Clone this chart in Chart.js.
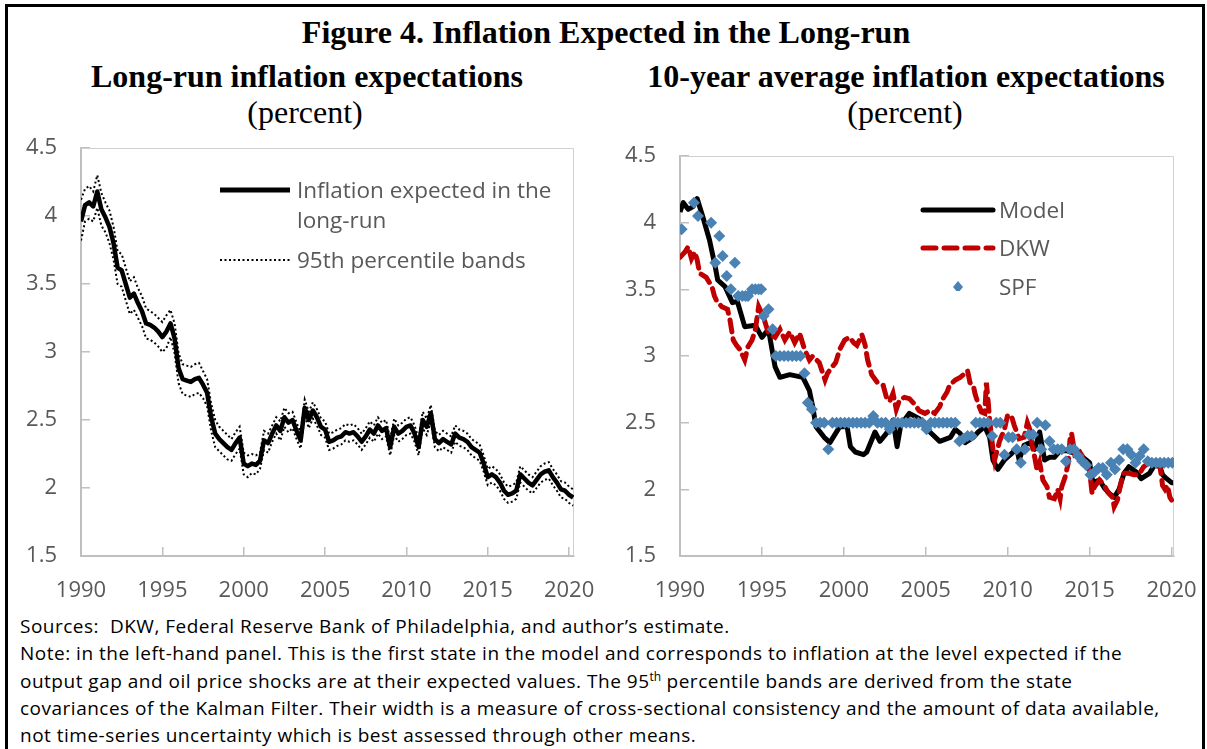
<!DOCTYPE html>
<html>
<head>
<meta charset="utf-8">
<script src="https://cdn.jsdelivr.net/npm/chart.js@4.4.1/dist/chart.umd.min.js"></script>
<style>
body{margin:0;width:1207px;height:749px;overflow:hidden;background:#fff;position:relative;font-family:"Open Sans",sans-serif}
#frame{position:absolute;left:5px;top:4px;width:1194px;height:800px;border:3px solid #000;border-bottom:none}
.t{position:absolute;font-family:"Liberation Serif",serif;font-size:32px;color:#000;white-space:nowrap;transform:translateX(-50%);line-height:1}
.b{font-weight:bold}
canvas{position:absolute}
.lg{position:absolute;font-size:22.5px;color:#595959;white-space:nowrap;line-height:30px}
svg{position:absolute}
#notes{position:absolute;left:20px;top:613px;font-size:19px;letter-spacing:0.5px;line-height:27.3px;color:#000;white-space:nowrap}
#notes sup{font-size:12px;line-height:0;letter-spacing:0}
</style>
</head>
<body>
<div id="frame"></div>
<div class="t b" style="left:606px;top:16px">Figure 4. Inflation Expected in the Long-run</div>
<div class="t b" style="left:307px;top:60px">Long-run inflation expectations</div>
<div class="t" style="left:305px;top:96px">(percent)</div>
<div class="t b" style="left:906px;top:60px">10-year average inflation expectations</div>
<div class="t" style="left:905px;top:96px">(percent)</div>

<canvas id="left" width="596" height="482" style="left:8px;top:128px"></canvas>
<canvas id="right" width="604" height="474" style="left:600px;top:136px"></canvas>

<svg width="80" height="90" style="left:216px;top:175px">
  <line x1="4" y1="15" x2="74" y2="15" stroke="#000" stroke-width="5"/>
  <line x1="4" y1="85" x2="74" y2="85" stroke="#000" stroke-width="2" stroke-dasharray="2 2.5"/>
</svg>
<div class="lg" style="left:297px;top:175px">Inflation expected in the<br>long-run</div>
<div class="lg" style="left:297px;top:245px">95th percentile bands</div>

<svg width="80" height="95" style="left:918px;top:196px">
  <line x1="5" y1="14" x2="75" y2="14" stroke="#000" stroke-width="5" stroke-linecap="round"/>
  <line x1="5" y1="52" x2="75" y2="52" stroke="#c00000" stroke-width="5" stroke-linecap="round" stroke-dasharray="13 8"/>
  <polygon points="40,85 45,91 40,97 35,91" fill="#4a82b4"/>
</svg>
<div class="lg" style="left:999px;top:195px">Model</div>
<div class="lg" style="left:999px;top:233px">DKW</div>
<div class="lg" style="left:999px;top:272px">SPF</div>

<div id="notes">Sources:&nbsp; DKW, Federal Reserve Bank of Philadelphia, and author’s estimate.<br>
Note: in the left-hand panel. This is the first state in the model and corresponds to inflation at the level expected if the<br>
output gap and oil price shocks are at their expected values. The 95<sup>th</sup> percentile bands are derived from the state<br>
covariances of the Kalman Filter. Their width is a measure of cross-sectional consistency and the amount of data available,<br>
not time-series uncertainty which is best assessed through other means.</div>

<script>
// left panel, quarterly from 1990Q1
var longRun = [
  3.96, 4.08, 4.10, 4.07,  4.18, 4.05, 3.99, 3.92,  3.80, 3.62, 3.60, 3.50,
  3.40, 3.43, 3.36, 3.30,  3.21, 3.20, 3.18, 3.15,  3.11, 3.15, 3.21, 3.10,
  2.88, 2.80, 2.79, 2.78,  2.80, 2.81, 2.76, 2.70,  2.52, 2.40, 2.36, 2.33,
  2.30, 2.28, 2.33, 2.37,  2.18, 2.16, 2.18, 2.17,  2.20, 2.35, 2.33, 2.40,
  2.46, 2.42, 2.52, 2.48,  2.50, 2.42, 2.35, 2.59,  2.50, 2.57, 2.52, 2.45,
  2.43, 2.34, 2.35, 2.37,  2.38, 2.41, 2.40, 2.41,  2.38, 2.34, 2.38, 2.43,
  2.40, 2.46, 2.42, 2.44,  2.30, 2.45, 2.40, 2.42,  2.45, 2.46, 2.40, 2.30,
  2.50, 2.45, 2.55, 2.36,  2.33, 2.36, 2.34, 2.32,  2.40, 2.37, 2.36, 2.34,
  2.30, 2.28, 2.26, 2.18,  2.08, 2.10, 2.08, 2.04,  1.98, 1.95, 1.96, 1.98,
  2.10, 2.07, 2.04, 2.02,  2.06, 2.10, 2.12, 2.13,  2.08, 2.04, 1.99, 1.98,
  1.95, 1.93
];
var bandUpper = [
  4.12, 4.20, 4.22, 4.18,  4.30, 4.17, 4.10, 4.04,  3.92, 3.74, 3.72, 3.62,
  3.52, 3.55, 3.47, 3.41,  3.32, 3.30, 3.28, 3.25,  3.22, 3.27, 3.31, 3.21,
  2.99, 2.91, 2.90, 2.89,  2.91, 2.92, 2.86, 2.80,  2.62, 2.50, 2.45, 2.42,
  2.39, 2.36, 2.41, 2.45,  2.26, 2.24, 2.25, 2.24,  2.26, 2.42, 2.40, 2.46,
  2.52, 2.49, 2.59, 2.55,  2.56, 2.48, 2.41, 2.65,  2.56, 2.63, 2.58, 2.51,
  2.49, 2.40, 2.41, 2.43,  2.44, 2.47, 2.46, 2.47,  2.44, 2.40, 2.44, 2.49,
  2.46, 2.52, 2.48, 2.50,  2.36, 2.51, 2.46, 2.48,  2.51, 2.52, 2.46, 2.36,
  2.56, 2.51, 2.61, 2.42,  2.39, 2.42, 2.40, 2.38,  2.46, 2.43, 2.42, 2.40,
  2.36, 2.34, 2.32, 2.24,  2.14, 2.16, 2.14, 2.10,  2.04, 2.01, 2.02, 2.04,
  2.16, 2.13, 2.10, 2.08,  2.12, 2.16, 2.18, 2.19,  2.14, 2.10, 2.05, 2.04,
  2.01, 1.99
];
var bandLower = [
  3.82, 3.96, 3.98, 3.96,  4.06, 3.93, 3.88, 3.80,  3.68, 3.50, 3.48, 3.38,
  3.28, 3.31, 3.25, 3.19,  3.10, 3.09, 3.07, 3.04,  3.00, 3.03, 3.11, 2.99,
  2.77, 2.69, 2.68, 2.67,  2.69, 2.70, 2.66, 2.60,  2.42, 2.30, 2.27, 2.24,
  2.21, 2.20, 2.25, 2.29,  2.10, 2.08, 2.11, 2.10,  2.14, 2.28, 2.26, 2.34,
  2.40, 2.35, 2.45, 2.41,  2.44, 2.36, 2.29, 2.53,  2.44, 2.51, 2.46, 2.39,
  2.37, 2.28, 2.29, 2.31,  2.32, 2.35, 2.34, 2.35,  2.32, 2.28, 2.32, 2.37,
  2.34, 2.40, 2.36, 2.38,  2.24, 2.39, 2.34, 2.36,  2.39, 2.40, 2.34, 2.24,
  2.44, 2.39, 2.49, 2.30,  2.27, 2.30, 2.28, 2.26,  2.34, 2.31, 2.30, 2.28,
  2.24, 2.22, 2.20, 2.12,  2.02, 2.04, 2.02, 1.98,  1.92, 1.89, 1.90, 1.92,
  2.04, 2.01, 1.98, 1.96,  2.00, 2.04, 2.06, 2.07,  2.02, 1.98, 1.93, 1.92,
  1.89, 1.87
];

// right panel
var modelYears = [1990.0, 1990.2, 1990.5, 1990.8, 1991.05, 1991.4, 1991.8, 1992.15, 1992.3, 1992.75,
  1993.2, 1993.5, 1993.95, 1994.6, 1995.0, 1995.4, 1995.8, 1996.1, 1996.7, 1997.5,
  1997.9, 1998.1, 1998.3, 1998.8, 1999.15, 1999.75, 2000.2, 2000.4, 2000.7, 2001.2,
  2001.4, 2001.9, 2002.2, 2002.6, 2003.0, 2003.25, 2003.5, 2003.7, 2004.0, 2004.6,
  2005.25, 2005.85, 2006.5, 2006.8, 2007.1, 2007.4, 2007.9, 2008.2, 2008.6, 2008.9,
  2009.1, 2009.4, 2009.8, 2010.25, 2010.55, 2010.7, 2011.0, 2011.35, 2011.65, 2011.95,
  2012.25, 2012.55, 2012.85, 2013.2, 2013.6, 2014.1, 2014.6, 2015.0, 2015.2, 2015.6,
  2015.9, 2016.2, 2016.5, 2016.8, 2017.1, 2017.4, 2017.85, 2018.15, 2018.65, 2018.95,
  2019.3, 2019.45, 2019.7, 2020.0, 2020.1];
var modelValues = [4.08, 4.15, 4.10, 4.12, 4.18, 4.04, 3.87, 3.67, 3.57, 3.52,
  3.40, 3.41, 3.22, 3.23, 3.14, 3.20, 2.92, 2.84, 2.86, 2.84,
  2.74, 2.62, 2.47, 2.39, 2.35, 2.47, 2.47, 2.32, 2.28, 2.26,
  2.28, 2.43, 2.36, 2.42, 2.52, 2.32, 2.50, 2.52, 2.57, 2.53,
  2.43, 2.36, 2.39, 2.45, 2.42, 2.35, 2.39, 2.43, 2.47, 2.39,
  2.22, 2.15, 2.22, 2.27, 2.31, 2.22, 2.33, 2.35, 2.30, 2.43,
  2.22, 2.24, 2.24, 2.29, 2.29, 2.27, 2.24, 2.20, 2.05, 2.07,
  2.01, 1.97, 1.94, 2.00, 2.12, 2.17, 2.13, 2.08, 2.12, 2.18,
  2.17, 2.11, 2.08, 2.05, 2.05];

var dkwYears = [1990.0, 1990.3, 1990.5, 1990.7, 1990.9, 1991.05, 1991.2, 1991.6, 1991.95, 1992.1,
  1992.25, 1992.55, 1992.9, 1993.05, 1993.25, 1993.45, 1993.65, 1993.95, 1994.15, 1994.4,
  1994.6, 1994.8, 1995.1, 1995.4, 1995.8, 1996.1, 1996.4, 1996.7, 1997.0, 1997.3,
  1997.6, 1997.9, 1998.1, 1998.5, 1998.85, 1999.0, 1999.3, 1999.5, 1999.75, 2000.05,
  2000.35, 2000.6, 2000.8, 2001.1, 2001.3, 2001.45, 2001.7, 2002.05, 2002.4, 2002.6,
  2002.8, 2003.0, 2003.2, 2003.4, 2003.7, 2004.0, 2004.3, 2004.6, 2004.95, 2005.25,
  2005.55, 2005.85, 2006.0, 2006.3, 2006.45, 2006.8, 2007.1, 2007.4, 2007.55, 2007.7,
  2007.9, 2008.0, 2008.2, 2008.4, 2008.6, 2008.7, 2008.8, 2008.9, 2009.1, 2009.2,
  2009.5, 2009.8, 2010.0, 2010.25, 2010.4, 2010.7, 2011.0, 2011.2, 2011.35, 2011.5,
  2011.65, 2011.8, 2011.95, 2012.15, 2012.4, 2012.55, 2012.85, 2013.05, 2013.2, 2013.3,
  2013.5, 2013.7, 2013.8, 2013.9, 2014.1, 2014.4, 2014.7, 2015.0, 2015.15, 2015.3,
  2015.6, 2015.9, 2016.1, 2016.4, 2016.5, 2016.7, 2016.95, 2017.1, 2017.4, 2017.7,
  2018.0, 2018.3, 2018.65, 2018.95, 2019.3, 2019.45, 2019.6, 2019.75, 2019.9, 2020.0];
var dkwValues = [3.74, 3.78, 3.82, 3.73, 3.78, 3.72, 3.62, 3.59, 3.52, 3.45,
  3.41, 3.37, 3.35, 3.27, 3.12, 3.08, 3.05, 2.97, 3.07, 3.12,
  3.20, 3.37, 3.29, 3.17, 3.14, 3.20, 3.12, 3.18, 3.10, 3.17,
  3.05, 2.97, 3.00, 2.95, 2.82, 2.87, 2.92, 2.95, 3.05, 3.12,
  3.14, 3.10, 3.08, 3.16, 3.08, 2.97, 2.86, 2.80, 2.78, 2.69,
  2.66, 2.72, 2.60, 2.67, 2.69, 2.68, 2.64, 2.59, 2.57, 2.59,
  2.57, 2.62, 2.67, 2.73, 2.78, 2.82, 2.84, 2.87, 2.89, 2.80,
  2.78, 2.72, 2.64, 2.58, 2.57, 2.80, 2.67, 2.52, 2.30, 2.22,
  2.36, 2.45, 2.56, 2.54, 2.48, 2.38, 2.39, 2.50, 2.45, 2.32,
  2.24, 2.14, 2.20, 2.07, 2.02, 1.94, 1.93, 2.00, 1.93, 2.02,
  2.09, 2.20, 2.37, 2.42, 2.26, 2.28, 2.22, 2.14, 1.97, 2.02,
  2.07, 2.03, 1.98, 1.94, 1.87, 1.92, 2.07, 2.12, 2.12, 2.11,
  2.11, 2.17, 2.20, 2.20, 2.17, 2.03, 2.00, 2.03, 1.94, 1.92];

var spfYears = [1990.1, 1990.85, 1991.1, 1991.9, 1992.15, 1992.4, 1992.6, 1992.85, 1993.1, 1993.35,
  1993.55, 1993.8, 1994.0, 1994.15, 1994.4, 1994.6, 1994.8, 1994.95, 1995.1, 1995.4,
  1995.65, 1995.85, 1996.1, 1996.35, 1996.6, 1996.85, 1997.1, 1997.35, 1997.6, 1997.8,
  1998.05, 1998.3, 1998.55, 1998.8, 1999.05, 1999.3, 1999.55, 1999.8, 2000.05, 2000.3,
  2000.55, 2000.8, 2001.05, 2001.3, 2001.55, 2001.8, 2002.05, 2002.3, 2002.55, 2002.8,
  2003.05, 2003.3, 2003.55, 2003.8, 2004.05, 2004.3, 2004.55, 2004.8, 2005.05, 2005.3,
  2005.55, 2005.8, 2006.05, 2006.3, 2006.55, 2006.8, 2007.05, 2007.3, 2007.55, 2007.8,
  2008.05, 2008.3, 2008.55, 2008.8, 2009.05, 2009.3, 2009.55, 2009.8, 2010.05, 2010.3,
  2010.55, 2010.8, 2011.05, 2011.3, 2011.55, 2011.8, 2012.05, 2012.3, 2012.55, 2012.8,
  2013.05, 2013.3, 2013.55, 2013.8, 2014.05, 2014.3, 2014.55, 2014.8, 2015.05, 2015.3,
  2015.55, 2015.8, 2016.05, 2016.3, 2016.55, 2016.8, 2017.05, 2017.3, 2017.55, 2017.8,
  2018.05, 2018.3, 2018.55, 2018.8, 2019.05, 2019.3, 2019.55, 2019.8, 2020.05];
var spfValues = [3.95, 4.15, 4.05, 4.00, 3.70, 3.90, 3.75, 3.60, 3.50, 3.70,
  3.45, 3.45, 3.45, 3.45, 3.50, 3.50, 3.50, 3.50, 3.30, 3.35,
  3.20, 3.00, 3.00, 3.00, 3.00, 3.00, 3.00, 3.00, 2.87, 2.65,
  2.60, 2.50, 2.50, 2.50, 2.30, 2.50, 2.50, 2.50, 2.50, 2.50,
  2.50, 2.50, 2.50, 2.50, 2.50, 2.55, 2.50, 2.50, 2.50, 2.45,
  2.50, 2.50, 2.50, 2.50, 2.50, 2.50, 2.50, 2.50, 2.45, 2.50,
  2.50, 2.50, 2.50, 2.50, 2.50, 2.50, 2.36, 2.38, 2.40, 2.40,
  2.50, 2.50, 2.50, 2.50, 2.40, 2.50, 2.50, 2.26, 2.39, 2.39,
  2.30, 2.20, 2.30, 2.41, 2.41, 2.50, 2.30, 2.48, 2.36, 2.30,
  2.30, 2.30, 2.21, 2.30, 2.30, 2.25, 2.21, 2.18, 2.11, 2.13,
  2.16, 2.16, 2.11, 2.20, 2.15, 2.22, 2.30, 2.30, 2.26, 2.20,
  2.25, 2.30, 2.21, 2.20, 2.20, 2.20, 2.20, 2.20, 2.20];

var quarterYears = longRun.map(function(v, i) { return 1990 + i / 4; });

function pts(xs, ys) {
  return ys.map(function(y, i) { return {x: xs[i], y: y}; });
}

var tickFont = {family: "'Open Sans', sans-serif", size: 22};

// keep the label overhang out of the layout so the plot box sits where the padding says
function noPad(s) {
  s.paddingTop = 0; s.paddingBottom = 0; s.paddingLeft = 0; s.paddingRight = 0;
}

function axes(xmax, yw) {
  return {
    x: {
      type: 'linear', min: 1990, max: xmax,
      afterFit: function(s) { s.height = 54; noPad(s); },
      border: {color: '#bfbfbf', width: 2},
      grid: {drawOnChartArea: false, color: '#bfbfbf', lineWidth: 1.5, tickLength: -9},
      ticks: {stepSize: 5, includeBounds: false, padding: 31, color: '#595959', font: tickFont,
        maxRotation: 0, autoSkip: false, callback: function(v) { return String(v); }}
    },
    y: {
      min: 1.5, max: 4.5,
      afterFit: function(s) { s.width = yw; noPad(s); },
      border: {color: '#bfbfbf', width: 2},
      grid: {drawOnChartArea: false, color: '#bfbfbf', lineWidth: 1.5, tickLength: -9},
      ticks: {stepSize: 0.5, padding: 33, color: '#595959', font: tickFont,
        callback: function(v) { return String(Math.round(v * 10) / 10); }}
    }
  };
}

// thin grey frame on top and right of the plot
var plotFrame = {
  id: 'plotFrame',
  beforeDatasetsDraw: function(chart) {
    var a = chart.chartArea, c = chart.ctx;
    c.save();
    c.strokeStyle = '#d0d0d0';
    c.lineWidth = 1;
    c.beginPath();
    c.moveTo(a.left, a.top + 0.5);
    c.lineTo(a.right - 0.5, a.top + 0.5);
    c.lineTo(a.right - 0.5, a.bottom);
    c.stroke();
    c.restore();
  }
};

var common = {
  responsive: false,
  animation: false,
  events: [],
  plugins: {legend: {display: false}, tooltip: {enabled: false}},
  elements: {point: {radius: 0}, line: {tension: 0}}
};

new Chart(document.getElementById('left'), {
  type: 'line',
  data: {
    datasets: [{
      label: 'Inflation expected in the long-run',
      data: pts(quarterYears, longRun),
      borderColor: '#000', borderWidth: 4.5, borderJoinStyle: 'round', order: 0
    }, {
      label: '95th percentile bands',
      data: pts(quarterYears, bandUpper),
      borderColor: '#000', borderWidth: 2, borderDash: [2, 2.5], order: 1
    }, {
      label: '95th percentile bands (lower)',
      data: pts(quarterYears, bandLower),
      borderColor: '#000', borderWidth: 2, borderDash: [2, 2.5], order: 1
    }]
  },
  options: Object.assign({}, common, {
    layout: {padding: {top: 20, right: 30, left: 0, bottom: 0}},
    scales: axes(2020.3, 73)
  }),
  plugins: [plotFrame]
});

new Chart(document.getElementById('right'), {
  type: 'line',
  data: {
    datasets: [{
      label: 'Model',
      data: pts(modelYears, modelValues),
      borderColor: '#000', borderWidth: 5, borderJoinStyle: 'round', order: 2
    }, {
      label: 'DKW',
      data: pts(dkwYears, dkwValues),
      borderColor: '#c00000', borderWidth: 5, borderDash: [12, 7], borderCapStyle: 'round', order: 1
    }, {
      label: 'SPF',
      data: pts(spfYears, spfValues),
      showLine: false, pointStyle: 'rectRot', pointRadius: 6,
      pointBackgroundColor: '#4a82b4', pointBorderColor: '#4a82b4', pointBorderWidth: 0, order: 0
    }]
  },
  options: Object.assign({}, common, {
    layout: {padding: {top: 20, right: 30, left: 0, bottom: 0}},
    scales: axes(2020.15, 80)
  }),
  plugins: [plotFrame]
});
</script>
</body>
</html>
